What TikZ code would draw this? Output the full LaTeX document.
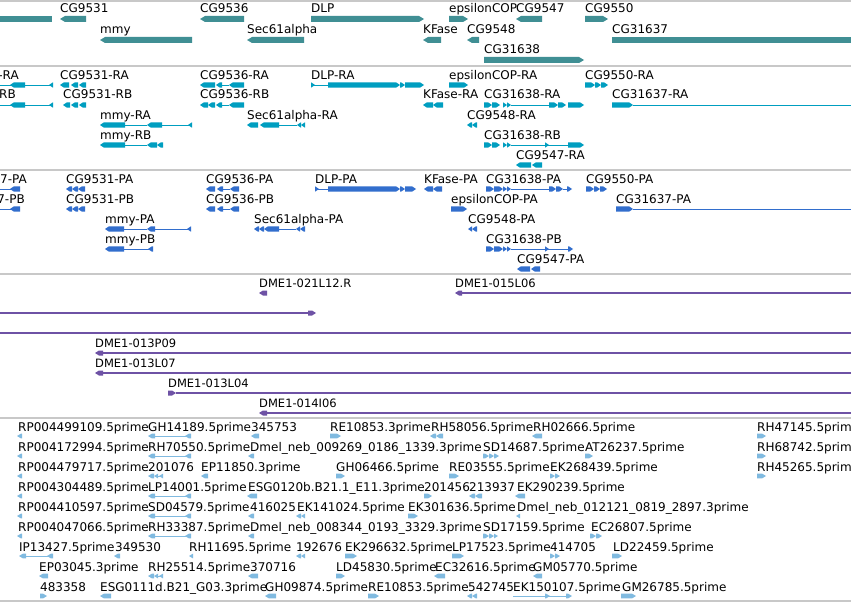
\documentclass[tikz,border=0pt]{standalone}
\usepackage{fontspec}
\setmainfont{DejaVu Sans}
\definecolor{gene}{RGB}{64,143,148}
\definecolor{tra}{RGB}{0,158,192}
\definecolor{pep}{RGB}{50,110,205}
\definecolor{cln}{RGB}{110,82,165}
\definecolor{est}{RGB}{128,186,224}
\definecolor{sepc}{RGB}{200,200,200}
\newcounter{lbc}
\def\hh{3}\def\tp{5}\def\lw{1pt}
\newcommand\xL[4]{\fill[#1] (#2,#4) -- ({#2+min(\tp,#3-#2)},{#4-\hh}) -- (#3,{#4-\hh}) -- (#3,{#4+\hh}) -- ({#2+min(\tp,#3-#2)},{#4+\hh}) -- cycle;}
\newcommand\xR[4]{\fill[#1] (#2,{#4-\hh}) -- ({#3-min(\tp,#3-#2)},{#4-\hh}) -- (#3,#4) -- ({#3-min(\tp,#3-#2)},{#4+\hh}) -- (#2,{#4+\hh}) -- cycle;}
\newcommand\rl[4]{\draw[#1,line width=\lw] (#2,#4) -- (#3,#4);}
\newcommand\lb[3]{\stepcounter{lbc}\node[lab] (lb\thelbc) at (#1,#2) {#3};}
\newcommand\lbe[3]{\stepcounter{lbc}\node[lab,anchor=base east] (lb\thelbc) at (#1,#2) {#3};}
\newcommand\lbc[3]{\stepcounter{lbc}\node[clab] (lb\thelbc) at (#1,#2) {#3};}
\begin{document}
\begin{tikzpicture}[x=1pt,y=-1pt,
  lab/.style={anchor=base west,inner sep=0pt,font=\fontsize{12}{14}\selectfont},
  clab/.style={lab,font=\fontsize{11.5}{14}\selectfont}]
\useasboundingbox (0,0) rectangle (851,602);
\clip (0,0) rectangle (851,602);
\fill[white] (0,0) rectangle (851,602);
\foreach \yy in {1,66,170,274,418,601} \draw[sepc,line width=1.2pt] (0,\yy) -- (851,\yy);
% ---------------- Track 1: genes
\def\hh{3}\def\tp{5}
\fill[gene] (0,16) rectangle (52,22);
\lb{60}{13}{CG9531} \xL{gene}{60}{86}{19}
\lb{200}{13}{CG9536} \xL{gene}{200}{244}{19}
\lb{311}{13}{DLP} \xR{gene}{311}{424}{19}
\lb{449}{13}{epsilonCOP} \xR{gene}{449}{468}{19}
\lb{516}{13}{CG9547} \xL{gene}{516}{542}{19}
\lb{585}{13}{CG9550} \xR{gene}{585}{608}{19}
\lb{100}{34}{mmy} \xL{gene}{100}{192}{40}
\lb{247}{34}{Sec61alpha} \xL{gene}{247}{304}{40}
\lb{423}{34}{KFase} \xL{gene}{423}{441}{40}
\lb{467}{34}{CG9548} \xL{gene}{467}{479}{40}
\lb{612}{34}{CG31637} \fill[gene] (612,37) rectangle (851,43);
\lb{484}{54}{CG31638} \xR{gene}{484}{584}{60}
% ---------------- Track 2: transcripts
\def\hh{2.7}\def\tp{4}\def\lw{1pt}
% row 1 (85)
\lbe{19}{79}{-RA} \rl{tra}{0}{53}{85} \xL{tra}{10}{25}{85} \xL{tra}{49}{53}{85}
\lb{60}{79}{CG9531-RA} \xL{tra}{60}{69}{85} \xL{tra}{71}{78}{85} \xL{tra}{79}{86}{85}
\lb{200}{79}{CG9536-RA} \xL{tra}{200}{215}{85} \xL{tra}{216}{222}{85} \rl{tra}{222}{229}{85} \xL{tra}{229}{244}{85}
\lb{311}{79}{DLP-RA} \xR{tra}{311}{315}{85} \rl{tra}{311}{328}{85} \xR{tra}{328}{400}{85} \xR{tra}{400}{405}{85} \xR{tra}{405}{424}{85}
\lb{449}{79}{epsilonCOP-RA} \xR{tra}{449}{468}{85}
\lb{585}{79}{CG9550-RA} \xR{tra}{585}{595}{85} \xR{tra}{595}{601}{85} \xR{tra}{601}{608}{85}
% row 2 (105)
\lbe{16}{99}{-RB} \rl{tra}{0}{53}{105} \xL{tra}{10}{25}{105} \xL{tra}{49}{53}{105}
\lb{63}{99}{CG9531-RB} \xL{tra}{63}{70}{105} \xL{tra}{71}{78}{105} \xL{tra}{79}{86}{105}
\lb{200}{99}{CG9536-RB} \xL{tra}{200}{208}{105} \xL{tra}{208}{215}{105} \xL{tra}{216}{222}{105} \rl{tra}{222}{229}{105} \xL{tra}{229}{244}{105}
\lb{423}{99}{KFase-RA} \xL{tra}{423}{433}{105} \xL{tra}{433}{443}{105}
\lb{484}{99}{CG31638-RA} \xR{tra}{484}{492}{105} \xR{tra}{492}{500}{105} \xR{tra}{503}{507}{105} \xR{tra}{507}{511}{105} \rl{tra}{511}{549}{105} \xR{tra}{549}{558}{105} \xR{tra}{558}{566}{105} \xR{tra}{568}{584}{105}
\lb{612}{99}{CG31637-RA} \xR{tra}{612}{633}{105} \rl{tra}{633}{851}{105}
% row 3 (125)
\lb{100}{119}{mmy-RA} \xL{tra}{100}{125}{125} \rl{tra}{125}{147}{125} \xL{tra}{147}{162}{125} \rl{tra}{162}{192}{125} \xL{tra}{188}{192}{125}
\lb{247}{119}{Sec61alpha-RA} \xL{tra}{247}{258}{125} \xL{tra}{260}{279}{125} \rl{tra}{279}{297}{125} \xL{tra}{297}{301}{125} \xL{tra}{301}{305}{125}
\lb{467}{119}{CG9548-RA} \xL{tra}{467}{472}{125} \xL{tra}{472}{477}{125}
% row 4 (145)
\lb{100}{139}{mmy-RB} \xL{tra}{100}{125}{145} \rl{tra}{125}{147}{145} \xL{tra}{147}{157}{145} \xL{tra}{157}{163}{145}
\lb{484}{139}{CG31638-RB} \xR{tra}{484}{492}{145} \xR{tra}{492}{500}{145} \xR{tra}{503}{507}{145} \xR{tra}{507}{511}{145} \rl{tra}{511}{568}{145} \xR{tra}{545}{549}{145} \xR{tra}{568}{584}{145}
% row 5 (165)
\lb{516}{159}{CG9547-RA} \xL{tra}{516}{531}{165} \xL{tra}{532}{542}{165}
% ---------------- Track 3: translations
% row 1 (189)
\lbe{27}{183}{7-PA} \rl{pep}{0}{20}{189} \xL{pep}{10}{20}{189}
\lb{66}{183}{CG9531-PA} \xL{pep}{66}{72}{189} \xL{pep}{72}{78}{189} \xL{pep}{78}{85}{189}
\lb{206}{183}{CG9536-PA} \xL{pep}{206}{215}{189} \xL{pep}{217}{223}{189} \rl{pep}{223}{230}{189} \xL{pep}{230}{239}{189}
\lb{315}{183}{DLP-PA} \xR{pep}{315}{319}{189} \rl{pep}{315}{328}{189} \xR{pep}{328}{400}{189} \xR{pep}{400}{405}{189} \xR{pep}{405}{416}{189}
\lb{424}{183}{KFase-PA} \xL{pep}{424}{433}{189} \xL{pep}{433}{442}{189}
\lb{486}{183}{CG31638-PA} \xR{pep}{486}{494}{189} \xR{pep}{494}{503}{189} \xR{pep}{503}{507}{189} \xR{pep}{507}{511}{189} \rl{pep}{511}{549}{189} \xR{pep}{549}{556}{189} \xR{pep}{556}{563}{189} \rl{pep}{563}{570}{189} \xR{pep}{567}{572}{189}
\lb{586}{183}{CG9550-PA} \xR{pep}{586}{594}{189} \xR{pep}{594}{600}{189} \xR{pep}{600}{607}{189}
% row 2 (209)
\lbe{25}{203}{7-PB} \rl{pep}{0}{20}{209} \xL{pep}{10}{20}{209}
\lb{66}{203}{CG9531-PB} \xL{pep}{66}{72}{209} \xL{pep}{72}{78}{209} \xL{pep}{78}{85}{209}
\lb{206}{203}{CG9536-PB} \xL{pep}{206}{215}{209} \xL{pep}{217}{223}{209} \rl{pep}{223}{230}{209} \xL{pep}{230}{239}{209}
\lb{451}{203}{epsilonCOP-PA} \xR{pep}{451}{467}{209}
\lb{616}{203}{CG31637-PA} \xR{pep}{616}{633}{209} \rl{pep}{633}{851}{209}
% row 3 (229)
\lb{105}{223}{mmy-PA} \xL{pep}{105}{124}{229} \rl{pep}{124}{147}{229} \xL{pep}{147}{155}{229} \rl{pep}{155}{191}{229} \xL{pep}{187}{191}{229}
\lb{254}{223}{Sec61alpha-PA} \xL{pep}{254}{259}{229} \xL{pep}{259}{264}{229} \xL{pep}{264}{279}{229} \rl{pep}{279}{296}{229} \xL{pep}{296}{300}{229} \xL{pep}{300}{305}{229}
\lb{468}{223}{CG9548-PA} \xL{pep}{468}{472}{229} \xL{pep}{472}{477}{229}
% row 4 (249)
\lb{105}{243}{mmy-PB} \xL{pep}{105}{124}{249} \rl{pep}{124}{153}{249} \xL{pep}{148}{153}{249}
\lb{486}{243}{CG31638-PB} \xR{pep}{486}{494}{249} \xR{pep}{494}{503}{249} \xR{pep}{503}{507}{249} \xR{pep}{507}{511}{249} \rl{pep}{511}{572}{249} \xR{pep}{545}{549}{249} \xR{pep}{568}{573}{249}
% row 5 (269)
\lb{517}{263}{CG9547-PA} \xL{pep}{517}{530}{269} \xL{pep}{531}{540}{269}
% ---------------- Track 4: clones
\def\hh{2.5}\def\tp{4}\def\lw{1.2pt}
\lbc{259}{287}{DME1-021L12.R} \xL{cln}{259}{267}{293}
\lbc{455}{287}{DME1-015L06} \xL{cln}{455}{462}{293} \rl{cln}{462}{851}{293}
\rl{cln}{0}{310}{313} \xR{cln}{308}{316}{313}
\rl{cln}{0}{851}{333}
\lbc{95}{347}{DME1-013P09} \xL{cln}{95}{103}{353} \rl{cln}{103}{851}{353}
\lbc{95}{367}{DME1-013L07} \xL{cln}{95}{103}{373} \rl{cln}{103}{851}{373}
\lbc{168}{387}{DME1-013L04} \xR{cln}{168}{176}{393} \rl{cln}{176}{851}{393}
\lbc{259}{407}{DME1-014I06} \xL{cln}{259}{267}{413} \rl{cln}{267}{851}{413}
% ---------------- Track 5: ESTs
\def\hh{2.4}\def\tp{4}\def\lw{0.9pt}
% row 1 (436)
\lb{18}{431}{RP004499109.5prime} \xL{est}{17}{22}{436}
\lb{148}{431}{GH14189.5prime} \rl{est}{150}{190}{436} \xL{est}{148}{155}{436} \xL{est}{185}{191}{436}
\lb{251}{431}{345753} \xL{est}{251}{259}{436}
\lb{330}{431}{RE10853.3prime} \xR{est}{330}{341}{436}
\lb{431}{431}{RH58056.5prime} \xL{est}{430}{436}{436} \xL{est}{436}{443}{436}
\lb{533}{431}{RH02666.5prime} \xL{est}{532}{542}{436}
\lb{757}{431}{RH47145.5prime} \xR{est}{757}{766}{436}
% row 2 (456)
\lb{18}{451}{RP004172994.5prime} \xL{est}{17}{22}{456}
\lb{148}{451}{RH70550.5prime} \rl{est}{150}{190}{456} \xL{est}{148}{155}{456} \xL{est}{185}{191}{456}
\lb{250}{451}{Dmel\_neb\_009269\_0186\_1339.3prime} \xL{est}{248}{254}{456}
\lb{483}{451}{SD14687.5prime} \xR{est}{483}{489}{456} \xR{est}{489}{494}{456} \xR{est}{494}{499}{456}
\lb{585}{451}{AT26237.5prime} \xR{est}{585}{593}{456}
\lb{757}{451}{RH68742.5prime} \xR{est}{757}{766}{456}
% row 3 (476)
\lb{18}{471}{RP004479717.5prime} \xL{est}{17}{22}{476}
\lb{148}{471}{201076} \xL{est}{148}{154}{476} \xL{est}{154}{158}{476} \rl{est}{158}{160}{476} \xL{est}{159}{163}{476}
\lb{201}{471}{EP11850.3prime} \xL{est}{201}{208}{476}
\lb{336}{471}{GH06466.5prime} \xR{est}{336}{345}{476}
\lb{449}{471}{RE03555.5prime} \xR{est}{449}{459}{476}
\lb{550}{471}{EK268439.5prime} \xR{est}{550}{555}{476} \xR{est}{555}{560}{476}
\lb{757}{471}{RH45265.5prime} \xR{est}{757}{766}{476}
% row 4 (496)
\lb{18}{491}{RP004304489.5prime} \xL{est}{17}{22}{496}
\lb{148}{491}{LP14001.5prime} \rl{est}{150}{190}{496} \xL{est}{148}{155}{496} \xL{est}{185}{191}{496}
\lb{248}{491}{ESG0120b.B21.1\_E11.3prime} \xL{est}{247}{257}{496}
\lb{424}{491}{201456} \xR{est}{424}{432}{496}
\lb{469}{491}{213937} \xL{est}{469}{475}{496} \xL{est}{475}{482}{496}
\lb{517}{491}{EK290239.5prime} \xL{est}{515}{525}{496}
% row 5 (516)
\lb{18}{511}{RP004410597.5prime} \xL{est}{17}{22}{516}
\lb{148}{511}{SD04579.5prime} \rl{est}{150}{190}{516} \xL{est}{148}{155}{516} \xL{est}{185}{191}{516}
\lb{250}{511}{416025} \xL{est}{248}{254}{516}
\lb{297}{511}{EK141024.5prime} \xL{est}{296}{301}{516} \xL{est}{301}{305}{516}
\lb{408}{511}{EK301636.5prime} \xR{est}{408}{418}{516}
\lb{517}{511}{Dmel\_neb\_012121\_0819\_2897.3prime} \xL{est}{516}{520}{516}
% row 6 (536)
\lb{18}{531}{RP004047066.5prime} \xL{est}{17}{22}{536}
\lb{148}{531}{RH33387.5prime} \rl{est}{150}{190}{536} \xL{est}{148}{155}{536} \xL{est}{185}{191}{536}
\lb{250}{531}{Dmel\_neb\_008344\_0193\_3329.3prime} \xL{est}{248}{254}{536}
\lb{483}{531}{SD17159.5prime} \xR{est}{483}{489}{536} \xR{est}{489}{494}{536} \xR{est}{494}{498}{536}
\lb{591}{531}{EC26807.5prime} \xR{est}{590}{596}{536} \xR{est}{596}{602}{536}
% row 7 (556)
\lb{19}{551}{IP13427.5prime} \rl{est}{21}{53}{556} \xL{est}{19}{26}{556} \xL{est}{47}{53}{556}
\lb{115}{551}{349530} \xL{est}{114}{120}{556}
\lb{189}{551}{RH11695.5prime} \xL{est}{189}{193}{556}
\lb{296}{551}{192676} \xL{est}{296}{301}{556} \xL{est}{301}{305}{556}
\lb{345}{551}{EK296632.5prime} \xR{est}{345}{357}{556}
\lb{452}{551}{LP17523.5prime} \xR{est}{452}{464}{556}
\lb{550}{551}{414705} \xR{est}{550}{555}{556} \xR{est}{555}{560}{556}
\lb{613}{551}{LD22459.5prime} \xR{est}{612}{622}{556}
% row 8 (576)
\lb{39}{571}{EP03045.3prime} \xL{est}{39}{48}{576}
\lb{148}{571}{RH25514.5prime} \xL{est}{148}{154}{576} \xL{est}{154}{158}{576} \rl{est}{158}{160}{576} \xL{est}{159}{163}{576}
\lb{250}{571}{370716} \xL{est}{248}{258}{576}
\lb{336}{571}{LD45830.5prime} \xR{est}{336}{345}{576}
\lb{435}{571}{EC32616.5prime} \xL{est}{434}{445}{576}
\lb{533}{571}{GM05770.5prime} \xL{est}{533}{542}{576}
% row 9 (596)
\lb{40}{591}{483358} \xR{est}{40}{47}{596}
\lb{100}{591}{ESG0111d.B21\_G03.3prime} \xL{est}{100}{111}{596}
\lb{265}{591}{GH09874.5prime} \xL{est}{265}{276}{596}
\lb{368}{591}{RE10853.5prime} \xR{est}{368}{379}{596}
\lb{468}{591}{542745} \xL{est}{467}{472}{596} \xL{est}{472}{477}{596}
\lb{513}{591}{EK150107.5prime} \rl{est}{513}{570}{596} \xR{est}{545}{550}{596} \xR{est}{566}{572}{596}
\lb{622}{591}{GM26785.5prime} \xR{est}{621}{636}{596}
\end{tikzpicture}
\end{document}
